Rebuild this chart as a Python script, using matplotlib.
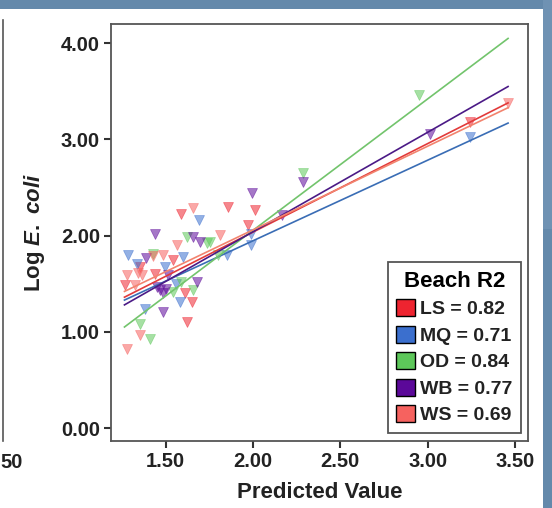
import numpy as np
import matplotlib
matplotlib.use("Agg")
import matplotlib.pyplot as plt
from matplotlib.patches import Rectangle, Patch
from matplotlib.lines import Line2D

plt.rcParams['font.family'] = ['Liberation Sans', 'DejaVu Sans']
plt.rcParams['font.weight'] = 'bold'
plt.rcParams['mathtext.fontset'] = 'custom'
plt.rcParams['mathtext.it'] = 'Liberation Sans:italic:bold'
plt.rcParams['mathtext.rm'] = 'Liberation Sans:bold'

# beaches, R2 and colours
beaches = ["LS", "MQ", "OD", "WB", "WS"]
r2 = [0.82, 0.71, 0.84, 0.77, 0.69]
colors = ["#ee2430", "#3b6fce", "#5dc75a", "#5b0899", "#f6625f"]
line_colors = ["#e23a3a", "#3a6db5", "#72c46c", "#4b1a86", "#f2836e"]

# fit lines (predicted value range, fitted log E. coli at both ends)
fit_x = [1.265, 3.46]
fit_y = {
    "LS": [1.36, 3.38],
    "MQ": [1.33, 3.17],
    "OD": [1.05, 4.05],
    "WB": [1.28, 3.55],
    "WS": [1.42, 3.33],
}

# observations: predicted value, log E. coli
pts_x = {
    "LS": [1.589, 1.856, 2.012, 1.545, 1.354, 1.44, 1.61, 1.62, 1.974, 3.242, 1.65, 1.268],
    "MQ": [1.284, 1.60, 1.335, 1.497, 1.382, 1.69, 1.99, 1.583, 3.242, 1.99, 1.85, 1.56],
    "OD": [1.62, 1.43, 1.545, 1.354, 1.41, 1.755, 1.659, 2.952, 2.288, 1.80, 1.74, 1.59],
    "WB": [1.44, 1.657, 1.39, 1.45, 1.487, 1.487, 1.516, 1.993, 1.697, 1.678, 2.285,
           3.013, 2.165, 1.47, 1.50],
    "WS": [1.659, 1.564, 1.487, 1.278, 1.364, 1.344, 1.325, 1.354, 1.278, 1.812, 3.46, 1.43],
}
pts_y = {
    "LS": [2.23, 2.30, 2.27, 1.745, 1.67, 1.60, 1.40, 1.10, 2.11, 3.18, 1.31, 1.485],
    "MQ": [1.80, 1.78, 1.71, 1.675, 1.24, 2.16, 1.90, 1.31, 3.03, 2.02, 1.80, 1.50],
    "OD": [1.99, 1.81, 1.415, 1.085, 0.93, 1.935, 1.43, 3.46, 2.65, 1.80, 1.92, 1.52],
    "WB": [2.02, 1.99, 1.77, 1.47, 1.40, 1.21, 1.59, 2.445, 1.935, 1.52, 2.56,
           3.06, 2.21, 1.43, 1.45],
    "WS": [2.29, 1.90, 1.80, 1.59, 1.59, 1.61, 1.485, 0.965, 0.826, 2.005, 3.375, 1.79],
}

xticks = [1.5, 2.0, 2.5, 3.0, 3.5]
yticks = [0.0, 1.0, 2.0, 3.0, 4.0]

W, H = 552, 508
fig = plt.figure(figsize=(W / 100, H / 100), dpi=100, facecolor="#6489ab")
# white page area (blue band top and right)
fig.patches.append(Rectangle((0, 0), 543 / W, (H - 9) / H, transform=fig.transFigure,
                             facecolor="white", edgecolor="none", zorder=-10))
fig.patches.append(Rectangle((543 / W, 0.55), 9 / W, 0.45, transform=fig.transFigure,
                             facecolor="#7a9cbb", edgecolor="none", alpha=0.5, zorder=-10))

# fragment of neighbouring panel on the left
fig.add_artist(Line2D([2.5 / W, 2.5 / W], [(H - 441) / H, (H - 20) / H],
                      transform=fig.transFigure, color="#555555", lw=1.2))
fig.text(0.5 / W, (H - 463) / H, "50", ha="left", va="center", fontsize=14.5,
         fontweight="bold", color="#222222")

ax = fig.add_axes([111 / W, (H - 441) / H, 417 / W, 417 / H])
ax.set_facecolor("white")

for i, b in enumerate(beaches):
    ax.plot(fit_x, fit_y[b], color=line_colors[i], lw=1.2, zorder=3)
    ax.plot(pts_x[b], pts_y[b], linestyle="none", marker="v", ms=6.5,
            color=colors[i], alpha=0.55, mec=colors[i], mew=0.5, zorder=2)

ax.set_xlim(1.188, 3.574)
ax.set_ylim(-0.135, 4.2)
ax.set_xticks(xticks)
ax.set_yticks(yticks)
ax.set_xticklabels([f"{v:.2f}" for v in xticks])
ax.set_yticklabels([f"{v:.2f}" for v in yticks])
ax.tick_params(axis="both", direction="out", length=5, width=1.5, color="#333333",
               labelsize=14.5, labelcolor="#222222", pad=3)
for lab in ax.get_xticklabels() + ax.get_yticklabels():
    lab.set_fontweight("bold")
for s in ax.spines.values():
    s.set_color("#555555")
    s.set_linewidth(1.3)

ax.set_xlabel("Predicted Value", fontsize=16, fontweight="bold", color="#222222", labelpad=8)
ax.set_ylabel(r"Log $\mathit{E.\ coli}$", fontsize=16, fontweight="bold", color="#222222",
              labelpad=10)

handles = [Patch(facecolor=c, edgecolor="black", lw=1.0) for c in colors]
labels = [f"{b} = {v:.2f}" for b, v in zip(beaches, r2)]
leg = ax.legend(handles, labels, title="Beach R2", loc="lower right",
                bbox_to_anchor=(0.983, 0.019), borderaxespad=0,
                prop={"weight": "bold", "size": 14},
                title_fontproperties={"weight": "bold", "size": 16},
                handlelength=0.95, handleheight=0.95, handletextpad=0.25,
                labelspacing=0.38, borderpad=0.45, fancybox=False, framealpha=1,
                edgecolor="#555555")
leg.get_frame().set_linewidth(1.3)
for t in leg.get_texts():
    t.set_color("#222222")

fig.savefig("out.png", dpi=100, facecolor=fig.get_facecolor())
